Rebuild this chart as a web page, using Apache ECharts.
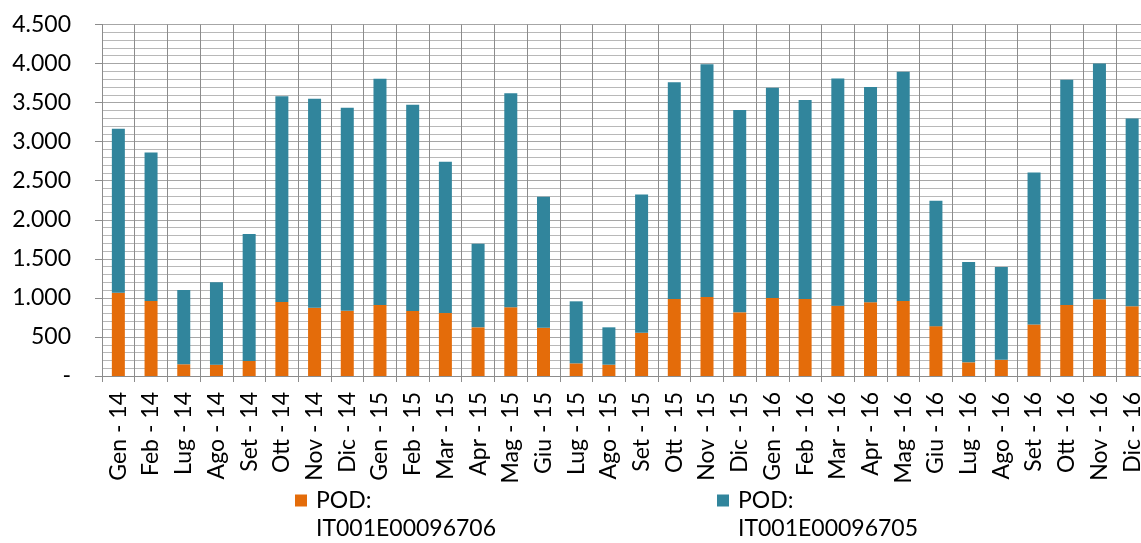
<!DOCTYPE html>
<html>
<head>
<meta charset="utf-8">
<script src="https://cdn.jsdelivr.net/npm/echarts@6/dist/echarts.min.js"></script>
<style>
  html, body { margin: 0; padding: 0; background: #fff; }
  #chart { width: 1141px; height: 543px; }
</style>
</head>
<body>
<div id="chart"></div>
<script>
// mesi (asse x)
const categories = [
  'Gen - 14', 'Feb - 14', 'Lug - 14', 'Ago - 14', 'Set - 14', 'Ott - 14', 'Nov - 14', 'Dic - 14',
  'Gen - 15', 'Feb - 15', 'Mar - 15', 'Apr - 15', 'Mag - 15', 'Giu - 15', 'Lug - 15', 'Ago - 15',
  'Set - 15', 'Ott - 15', 'Nov - 15', 'Dic - 15', 'Gen - 16', 'Feb - 16', 'Mar - 16', 'Apr - 16',
  'Mag - 16', 'Giu - 16', 'Lug - 16', 'Ago - 16', 'Set - 16', 'Ott - 16', 'Nov - 16', 'Dic - 16'
]
// POD IT001E00096706 (arancione, base)
const pod706 = [
  1066, 960, 150, 145, 192, 947, 874, 836,
  909, 832, 806, 623, 879, 618, 162, 145,
  554, 985, 1011, 815, 998, 985, 900, 945,
  961, 638, 175, 208, 660, 910, 983, 894
]
// POD IT001E00096705 (blu, sopra)
const pod705 = [
  2100, 1900, 950, 1054, 1625, 2636, 2674, 2597,
  2895, 2640, 1936, 1070, 2742, 1676, 794, 478,
  1771, 2777, 2981, 2589, 2691, 2547, 2909, 2755,
  2933, 1605, 1284, 1187, 1944, 2882, 3017, 2404
]
const seriesNames = ['POD: IT001E00096706', 'POD: IT001E00096705']
const yMax = 4500
const yStep = 500

const font = 'Lato, "Open Sans", sans-serif'
const textColor = '#000'

const myChart = echarts.init(document.getElementById('chart'))

function legendFor(name, left) {
  return {
    data: [name],
    left: left,
    top: 461,
    padding: 0,
    itemWidth: 12,
    itemHeight: 12,
    icon: 'rect',
    // riga vuota davanti per allineare il quadratino alla prima riga
    formatter: n => '{t|}\n{t|' + n.replace(' ', '}\n{t|') + '}',
    textStyle: {
      fontFamily: font,
      fontSize: 23,
      color: textColor,
      padding: [0, 0, 0, 4],
      rich: {
        t: { fontFamily: font, fontSize: 23, color: textColor, lineHeight: 28 }
      }
    }
  }
}

myChart.setOption({
  animation: false,
  grid: {
    left: 102,
    top: 24.5,
    width: 1046.5, // il grafico originale è tagliato a destra
    height: 351.5,
    outerBoundsMode: 'none'
  },
  legend: [
    legendFor(seriesNames[0], 295),
    legendFor(seriesNames[1], 717)
  ],
  xAxis: {
    type: 'category',
    data: categories,
    boundaryGap: true,
    axisLine: { show: true, lineStyle: { color: '#8c8c8c', width: 1 } },
    axisTick: { show: true, length: 6, lineStyle: { color: '#8c8c8c' } },
    splitLine: { show: true, lineStyle: { color: '#8c8c8c', width: 1 } },
    axisLabel: {
      interval: 0,
      rotate: 90,
      margin: 16,
      fontFamily: font,
      fontSize: 23,
      color: textColor
    }
  },
  yAxis: {
    type: 'value',
    min: 0,
    max: yMax,
    interval: yStep,
    axisLine: { show: true, lineStyle: { color: '#8c8c8c' } },
    axisTick: { show: true, length: 7, lineStyle: { color: '#8c8c8c' } },
    axisLabel: {
      margin: 31,
      fontFamily: font,
      fontSize: 23,
      color: textColor,
      formatter: v => v === 0 ? '-' : v.toLocaleString('it-IT').replace(/\s/g, '.')
    },
    splitLine: { show: true, lineStyle: { color: '#a6a6a6', width: 1 } },
    minorTick: { show: false, splitNumber: 5 },
    minorSplitLine: { show: true, lineStyle: { color: '#b8b8b8', width: 1 } }
  },
  series: [
    {
      name: seriesNames[0],
      type: 'bar',
      stack: 'pod',
      barWidth: 13,
      data: pod706,
      itemStyle: { color: '#E46C0A' }
    },
    {
      name: seriesNames[1],
      type: 'bar',
      stack: 'pod',
      barWidth: 13,
      data: pod705,
      itemStyle: { color: '#31859C' }
    }
  ]
})
</script>
</body>
</html>
